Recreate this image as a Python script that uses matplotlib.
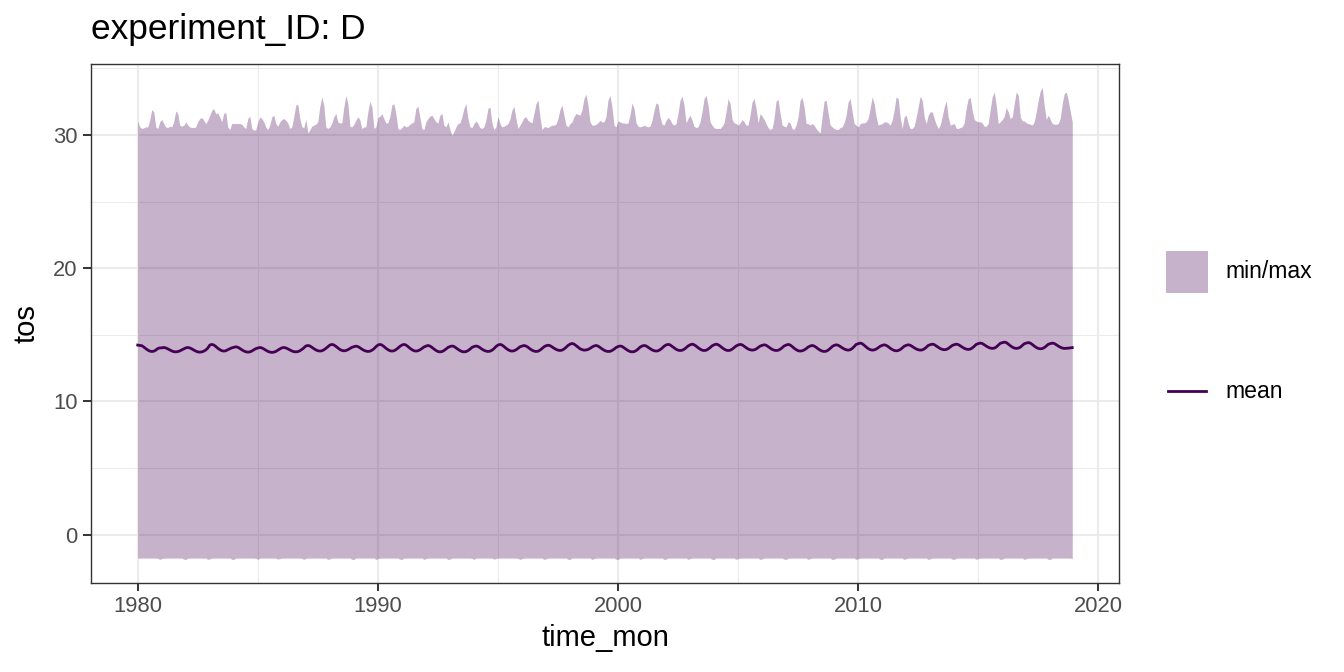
import datetime as dt
import matplotlib
matplotlib.use("Agg")
import matplotlib.pyplot as plt
import matplotlib.dates as mdates
from matplotlib.patches import Rectangle
from matplotlib.lines import Line2D

plt.rcParams['font.family'] = ['Liberation Sans', 'DejaVu Sans']

years = list(range(1980, 2019))

# monthly maximum (one row per year, Jan..Dec)
tos_max = [
    [31.06,30.61,30.49,30.54,30.61,30.61,31.11,31.91,31.74,30.61,30.49,30.99],
    [31.16,30.86,30.61,30.56,30.66,30.61,30.99,31.81,31.61,30.74,30.66,30.74],
    [30.99,30.74,30.61,30.56,30.56,30.61,30.99,31.24,31.31,31.11,30.86,31.11],
    [31.49,31.86,31.99,31.61,31.66,31.36,30.99,31.61,31.69,30.61,30.41,30.86],
    [30.86,30.86,30.86,30.86,30.81,30.61,30.49,31.24,31.41,30.49,30.36,30.41],
    [30.99,31.36,31.24,30.99,30.61,30.41,30.74,31.36,31.49,30.86,30.66,30.99],
    [31.16,31.24,31.11,30.91,30.49,30.61,31.36,32.24,32.31,31.24,30.61,30.56],
    [31.16,30.16,30.36,30.66,30.74,30.81,30.99,32.11,32.86,32.24,30.61,30.49],
    [30.61,30.91,31.36,31.61,30.99,30.91,30.91,32.11,32.98,32.36,30.66,30.61],
    [30.81,31.11,31.36,31.16,30.49,30.61,30.61,31.74,32.53,32.11,30.49,30.61],
    [31.31,31.41,31.61,31.24,30.91,30.91,31.36,32.24,32.36,31.61,30.49,30.41],
    [30.56,30.74,30.61,30.66,30.81,30.91,30.99,31.99,32.16,31.36,30.49,30.41],
    [30.99,31.24,31.41,31.49,31.24,30.99,30.91,31.49,31.61,30.74,30.61,30.99],
    [30.41,29.99,30.24,30.61,30.86,30.91,31.36,31.99,32.36,31.24,30.61,30.56],
    [30.86,31.06,30.86,30.56,30.49,30.61,31.11,31.99,32.11,30.91,30.41,30.61],
    [31.41,30.86,30.61,30.66,30.74,30.86,31.16,31.86,32.16,31.24,30.49,30.74],
    [30.99,31.31,31.36,31.11,30.99,30.91,31.61,32.36,32.61,31.36,30.41,30.61],
    [30.61,30.56,30.66,30.74,30.74,30.81,31.24,31.91,32.24,31.49,30.74,30.61],
    [30.86,30.99,31.36,31.61,31.56,31.49,31.86,32.73,33.06,32.24,30.99,30.74],
    [30.74,30.81,30.91,31.11,30.99,30.99,31.36,32.61,32.98,32.11,30.74,30.61],
    [31.06,30.99,30.91,30.91,30.86,30.91,31.49,32.41,31.99,30.91,30.66,30.61],
    [30.66,30.74,30.66,30.61,30.66,31.11,31.86,32.41,32.31,31.36,30.81,30.74],
    [31.11,31.31,31.16,30.86,30.74,30.86,31.61,32.61,32.91,32.24,30.91,31.24],
    [31.49,31.11,30.66,30.56,30.61,30.99,31.74,32.73,32.98,32.24,30.99,30.74],
    [30.54,30.49,30.49,30.49,30.66,30.91,31.74,32.73,32.36,31.16,30.91,30.86],
    [30.74,30.91,31.16,30.99,30.74,30.74,31.49,32.49,32.73,31.99,30.91,31.61],
    [31.41,31.16,30.86,30.56,30.41,30.49,31.24,32.56,32.66,31.61,30.74,30.66],
    [30.61,30.99,30.91,30.49,30.41,30.74,31.36,32.61,32.81,32.11,30.86,30.86],
    [30.74,30.86,30.74,30.49,30.31,30.16,31.36,32.56,32.61,31.61,30.74,30.61],
    [30.49,30.41,30.41,30.56,30.61,30.91,31.49,32.49,32.73,31.74,30.86,30.74],
    [30.61,30.86,30.91,30.91,30.99,31.24,31.99,32.86,32.36,31.36,30.74,30.81],
    [30.86,30.99,30.99,30.91,30.74,31.11,31.86,32.86,32.73,31.36,30.49,31.36],
    [31.49,30.86,30.49,30.49,30.66,31.36,32.11,32.91,32.61,31.36,30.86,31.49],
    [31.74,31.74,31.24,30.81,30.49,30.74,31.36,32.11,32.56,31.36,30.74,30.81],
    [30.86,30.49,30.49,30.56,30.61,30.91,31.99,32.73,32.81,31.86,31.16,31.06],
    [30.99,30.99,30.91,30.66,30.66,30.86,31.86,32.86,33.23,32.24,30.86,30.99],
    [31.16,31.41,32.06,31.74,31.24,31.36,32.36,33.23,32.98,31.36,31.06,31.06],
    [30.91,30.86,30.81,30.74,30.99,31.74,32.61,33.30,33.56,32.20,31.16,31.49],
    [31.16,30.86,30.81,30.81,30.86,31.24,32.36,33.11,33.23,32.61,31.74,30.99],
]

# monthly minimum
tos_min = [
    [-1.76,-1.76,-1.76,-1.76,-1.76,-1.76,-1.76,-1.76,-1.76,-1.76,-1.78,-1.86],
    [-1.80,-1.76,-1.76,-1.76,-1.76,-1.76,-1.76,-1.76,-1.76,-1.76,-1.76,-1.84],
    [-1.86,-1.77,-1.76,-1.76,-1.76,-1.76,-1.76,-1.76,-1.76,-1.76,-1.76,-1.86],
    [-1.82,-1.76,-1.76,-1.76,-1.76,-1.76,-1.76,-1.76,-1.76,-1.76,-1.76,-1.85],
    [-1.86,-1.77,-1.76,-1.76,-1.76,-1.76,-1.76,-1.76,-1.76,-1.76,-1.76,-1.78],
    [-1.86,-1.76,-1.76,-1.76,-1.76,-1.76,-1.76,-1.76,-1.76,-1.76,-1.84,-1.80],
    [-1.76,-1.76,-1.76,-1.76,-1.76,-1.76,-1.76,-1.76,-1.76,-1.76,-1.78,-1.86],
    [-1.78,-1.76,-1.76,-1.76,-1.76,-1.76,-1.76,-1.76,-1.76,-1.76,-1.76,-1.86],
    [-1.82,-1.76,-1.76,-1.76,-1.76,-1.76,-1.76,-1.76,-1.76,-1.76,-1.76,-1.85],
    [-1.86,-1.76,-1.76,-1.76,-1.76,-1.76,-1.76,-1.76,-1.76,-1.76,-1.76,-1.86],
    [-1.80,-1.76,-1.76,-1.76,-1.76,-1.76,-1.76,-1.76,-1.76,-1.76,-1.76,-1.84],
    [-1.86,-1.77,-1.76,-1.76,-1.76,-1.76,-1.76,-1.76,-1.76,-1.76,-1.76,-1.86],
    [-1.80,-1.76,-1.76,-1.76,-1.76,-1.76,-1.76,-1.76,-1.76,-1.76,-1.76,-1.86],
    [-1.84,-1.76,-1.76,-1.76,-1.76,-1.76,-1.76,-1.76,-1.76,-1.76,-1.76,-1.78],
    [-1.86,-1.77,-1.76,-1.76,-1.76,-1.76,-1.76,-1.76,-1.76,-1.76,-1.84,-1.80],
    [-1.76,-1.76,-1.76,-1.76,-1.76,-1.76,-1.76,-1.76,-1.76,-1.76,-1.78,-1.86],
    [-1.80,-1.76,-1.76,-1.76,-1.76,-1.76,-1.76,-1.76,-1.76,-1.76,-1.76,-1.86],
    [-1.82,-1.76,-1.76,-1.76,-1.76,-1.76,-1.76,-1.76,-1.76,-1.76,-1.76,-1.85],
    [-1.86,-1.76,-1.76,-1.76,-1.76,-1.76,-1.76,-1.76,-1.76,-1.76,-1.76,-1.86],
    [-1.80,-1.76,-1.76,-1.76,-1.76,-1.76,-1.76,-1.76,-1.76,-1.76,-1.76,-1.84],
    [-1.86,-1.77,-1.76,-1.76,-1.76,-1.76,-1.76,-1.76,-1.76,-1.76,-1.76,-1.86],
    [-1.80,-1.76,-1.76,-1.76,-1.76,-1.76,-1.76,-1.76,-1.76,-1.76,-1.76,-1.86],
    [-1.84,-1.76,-1.76,-1.76,-1.76,-1.76,-1.76,-1.76,-1.76,-1.76,-1.76,-1.86],
    [-1.80,-1.76,-1.76,-1.76,-1.76,-1.76,-1.76,-1.76,-1.76,-1.76,-1.76,-1.85],
    [-1.86,-1.76,-1.76,-1.76,-1.76,-1.76,-1.76,-1.76,-1.76,-1.76,-1.76,-1.86],
    [-1.80,-1.76,-1.76,-1.76,-1.76,-1.76,-1.76,-1.76,-1.76,-1.76,-1.76,-1.86],
    [-1.82,-1.76,-1.76,-1.76,-1.76,-1.76,-1.76,-1.76,-1.76,-1.76,-1.76,-1.84],
    [-1.86,-1.77,-1.76,-1.76,-1.76,-1.76,-1.76,-1.76,-1.76,-1.76,-1.76,-1.86],
    [-1.80,-1.76,-1.76,-1.76,-1.76,-1.76,-1.76,-1.76,-1.76,-1.76,-1.76,-1.86],
    [-1.84,-1.76,-1.76,-1.76,-1.76,-1.76,-1.76,-1.76,-1.76,-1.76,-1.76,-1.86],
    [-1.80,-1.76,-1.76,-1.76,-1.76,-1.76,-1.76,-1.76,-1.76,-1.76,-1.76,-1.85],
    [-1.86,-1.76,-1.76,-1.76,-1.76,-1.76,-1.76,-1.76,-1.76,-1.76,-1.76,-1.86],
    [-1.80,-1.76,-1.76,-1.76,-1.76,-1.76,-1.76,-1.76,-1.76,-1.76,-1.76,-1.86],
    [-1.82,-1.76,-1.76,-1.76,-1.76,-1.76,-1.76,-1.76,-1.76,-1.76,-1.76,-1.84],
    [-1.86,-1.77,-1.76,-1.76,-1.76,-1.76,-1.76,-1.76,-1.76,-1.76,-1.76,-1.86],
    [-1.80,-1.76,-1.76,-1.76,-1.76,-1.76,-1.76,-1.76,-1.76,-1.76,-1.76,-1.86],
    [-1.84,-1.76,-1.76,-1.76,-1.76,-1.76,-1.76,-1.76,-1.76,-1.76,-1.76,-1.86],
    [-1.80,-1.76,-1.76,-1.76,-1.76,-1.76,-1.76,-1.76,-1.76,-1.76,-1.76,-1.85],
    [-1.86,-1.76,-1.76,-1.76,-1.76,-1.76,-1.76,-1.76,-1.76,-1.76,-1.76,-1.80],
]

# monthly mean
tos_mean = [
    [14.23,14.20,14.19,14.09,13.97,13.86,13.78,13.75,13.77,13.85,13.97,14.02],
    [14.02,14.05,14.02,13.95,13.87,13.79,13.74,13.72,13.74,13.79,13.87,13.95],
    [14.02,14.05,14.02,13.95,13.86,13.78,13.72,13.70,13.72,13.77,13.86,14.00],
    [14.23,14.28,14.24,14.13,14.00,13.89,13.81,13.78,13.80,13.88,13.95,14.02],
    [14.06,14.10,14.07,13.98,13.88,13.79,13.73,13.70,13.72,13.78,13.88,13.96],
    [14.01,14.05,14.02,13.94,13.85,13.76,13.71,13.68,13.70,13.75,13.85,13.94],
    [14.02,14.05,14.02,13.95,13.87,13.79,13.74,13.72,13.74,13.80,13.90,14.02],
    [14.16,14.20,14.17,14.07,13.97,13.87,13.81,13.78,13.80,13.87,13.98,14.10],
    [14.23,14.28,14.24,14.14,14.02,13.90,13.83,13.80,13.82,13.88,13.97,14.06],
    [14.11,14.15,14.12,14.03,13.93,13.84,13.78,13.75,13.77,13.84,13.95,14.10],
    [14.23,14.28,14.24,14.13,14.00,13.89,13.81,13.78,13.80,13.88,14.00,14.13],
    [14.23,14.28,14.24,14.13,14.00,13.89,13.81,13.78,13.80,13.87,13.97,14.08],
    [14.15,14.20,14.16,14.06,13.94,13.83,13.75,13.72,13.74,13.82,13.93,14.05],
    [14.12,14.16,14.13,14.03,13.92,13.82,13.75,13.72,13.74,13.81,13.92,14.05],
    [14.12,14.16,14.13,14.04,13.93,13.84,13.78,13.75,13.77,13.84,13.96,14.12],
    [14.23,14.28,14.24,14.13,14.00,13.89,13.81,13.78,13.80,13.87,13.98,14.10],
    [14.15,14.20,14.16,14.07,13.95,13.85,13.78,13.75,13.77,13.85,13.97,14.10],
    [14.18,14.22,14.19,14.10,14.00,13.91,13.85,13.82,13.85,13.93,14.06,14.20],
    [14.30,14.35,14.31,14.20,14.08,13.96,13.89,13.85,13.86,13.90,13.98,14.08],
    [14.16,14.20,14.16,14.06,13.95,13.85,13.78,13.75,13.76,13.82,13.92,14.04],
    [14.12,14.16,14.13,14.03,13.92,13.82,13.75,13.72,13.74,13.81,13.93,14.07],
    [14.16,14.20,14.17,14.07,13.97,13.87,13.81,13.78,13.80,13.88,14.00,14.14],
    [14.24,14.28,14.25,14.14,14.03,13.92,13.85,13.82,13.84,13.91,14.03,14.16],
    [14.25,14.30,14.26,14.16,14.04,13.93,13.85,13.82,13.84,13.92,14.04,14.17],
    [14.25,14.30,14.26,14.16,14.04,13.93,13.85,13.82,13.84,13.92,14.04,14.16],
    [14.24,14.28,14.25,14.15,14.04,13.94,13.88,13.85,13.87,13.93,14.04,14.15],
    [14.21,14.25,14.22,14.12,14.01,13.91,13.85,13.82,13.84,13.91,14.03,14.16],
    [14.23,14.28,14.24,14.13,14.00,13.89,13.81,13.78,13.80,13.86,13.96,14.08],
    [14.16,14.20,14.16,14.07,13.95,13.85,13.78,13.75,13.77,13.85,13.98,14.12],
    [14.21,14.25,14.22,14.13,14.03,13.94,13.88,13.85,13.88,13.97,14.12,14.28],
    [14.33,14.38,14.34,14.22,14.09,13.97,13.89,13.85,13.87,13.93,14.03,14.14],
    [14.21,14.25,14.21,14.12,14.00,13.90,13.83,13.80,13.82,13.89,14.01,14.14],
    [14.21,14.25,14.22,14.13,14.03,13.94,13.88,13.85,13.87,13.94,14.06,14.20],
    [14.26,14.30,14.27,14.17,14.07,13.97,13.91,13.88,13.90,13.97,14.09,14.20],
    [14.26,14.30,14.27,14.18,14.08,13.99,13.93,13.90,13.93,14.01,14.14,14.28],
    [14.34,14.38,14.35,14.26,14.16,14.07,14.01,13.98,14.00,14.08,14.22,14.36],
    [14.41,14.45,14.42,14.31,14.19,14.08,14.01,13.98,14.00,14.07,14.20,14.33],
    [14.38,14.42,14.38,14.28,14.16,14.05,13.98,13.95,13.97,14.04,14.16,14.29],
    [14.34,14.38,14.35,14.26,14.16,14.07,14.01,13.98,13.99,14.00,14.02,14.04],
]

title = "experiment_ID: D"
x_label = "time_mon"
y_label = "tos"
fill_label = "min/max"
line_label = "mean"
x_major_years = [1980, 1990, 2000, 2010, 2020]
x_minor_years = [1985, 1995, 2005, 2015]
y_major = [0, 10, 20, 30]
y_minor = [5, 15, 25, 35]

line_color = "#440154"
ribbon_alpha = 0.3

dates = [dt.date(y, m, 1) for y in years for m in range(1, 13)]
vmax = [v for row in tos_max for v in row]
vmin = [v for row in tos_min for v in row]
vmean = [v for row in tos_mean for v in row]

W, H = 1344, 672
fig = plt.figure(figsize=(W / 100, H / 100), dpi=100)
ax = fig.add_axes([91 / W, 1 - 583 / H, (1119 - 91) / W, (583 - 64) / H])

ax.fill_between(dates, vmin, vmax, color=line_color, alpha=ribbon_alpha,
                linewidth=0, zorder=2)
ax.plot(dates, vmean, color=line_color, linewidth=2.0, zorder=3)

# scales with 5% expansion like ggplot
xn = [mdates.date2num(d) for d in dates]
span = xn[-1] - xn[0]
ax.set_xlim(xn[0] - 0.05 * span, xn[-1] + 0.05 * span)
lo, hi = min(vmin), max(vmax)
ax.set_ylim(lo - 0.05 * (hi - lo), hi + 0.05 * (hi - lo))

ax.set_xticks([mdates.date2num(dt.date(y, 1, 1)) for y in x_major_years])
ax.set_xticklabels([str(y) for y in x_major_years])
ax.set_xticks([mdates.date2num(dt.date(y, 1, 1)) for y in x_minor_years], minor=True)
ax.set_yticks(y_major)
ax.set_yticklabels([str(v) for v in y_major])
ax.set_yticks(y_minor, minor=True)

ax.set_axisbelow(True)
ax.grid(which='major', color='#EBEBEB', linewidth=1.5, zorder=0)
ax.grid(which='minor', color='#EBEBEB', linewidth=0.75, zorder=0)

for s in ax.spines.values():
    s.set_color('#333333')
    s.set_linewidth(1.0)

ax.tick_params(which='major', length=5.5, width=1.4, color='#333333',
               labelsize=15.8, labelcolor='#4D4D4D', pad=4)
ax.tick_params(which='minor', length=0)

ax.set_xlabel(x_label, fontsize=21, color='black', labelpad=5)
ax.set_ylabel(y_label, fontsize=21, color='black', labelpad=9)
fig.text(91 / W, 1 - 30 / H, title, fontsize=25.4, ha='left', va='center')

# legends
fig.add_artist(Rectangle((1166 / W, 1 - 293 / H), 42 / W, 42 / H,
                         transform=fig.transFigure, facecolor=line_color,
                         alpha=ribbon_alpha, linewidth=0))
fig.text(1225 / W, 1 - 272 / H, fill_label, fontsize=16.6, ha='left', va='center')
fig.add_artist(Line2D([1168 / W, 1206 / W], [1 - 391 / H, 1 - 391 / H],
                      transform=fig.transFigure, color=line_color, linewidth=2.0))
fig.text(1225 / W, 1 - 391 / H, line_label, fontsize=16.6, ha='left', va='center')

fig.savefig("out.png", dpi=100)
